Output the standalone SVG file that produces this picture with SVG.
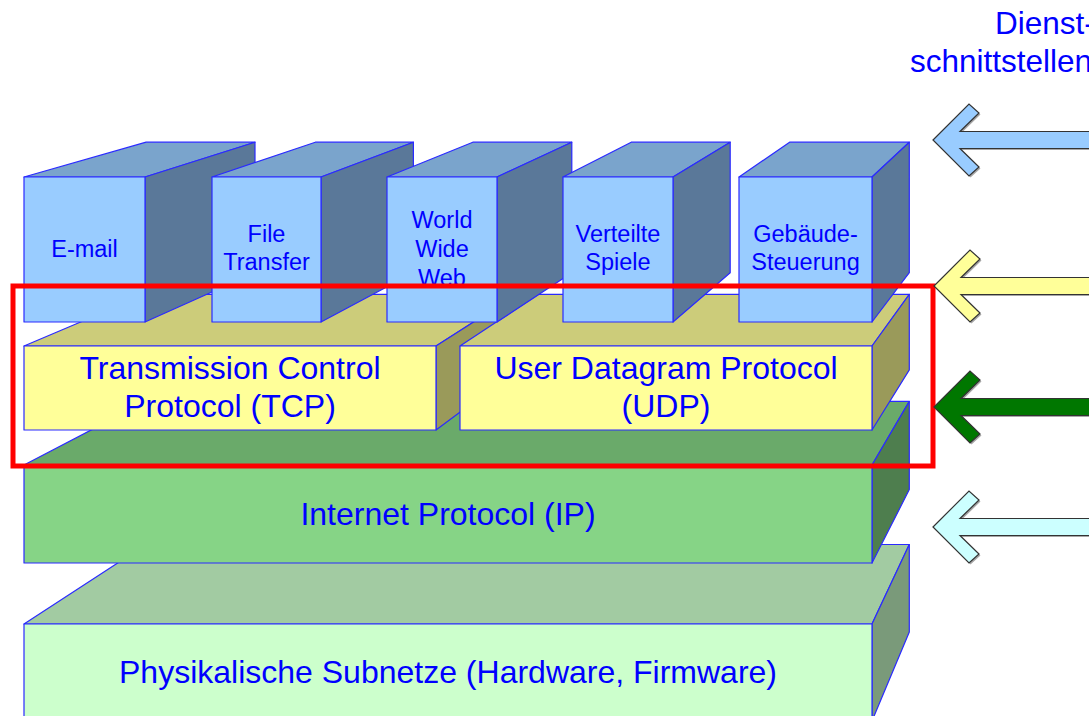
<svg xmlns="http://www.w3.org/2000/svg" width="1089" height="716" viewBox="0 0 1089 716">
<style>
.e{stroke:#2A2AFF;stroke-width:1.2;stroke-linejoin:round}
.af{fill:#99CCFF}.at{fill:#7AA4CC}.as{fill:#5A7899}
.yf{fill:#FFFF99}.yt{fill:#CCCC7A}.ys{fill:#9A9A5A}
.gf{fill:#86D486}.gt{fill:#6AAA6A}.gs{fill:#4E7E4E}
.pf{fill:#CCFFCC}.pt{fill:#A2CBA2}.ps{fill:#7A9A7A}
text{font-family:"Liberation Sans",Arial,sans-serif;fill:#0000FF;text-anchor:middle}
.s{font-size:23.5px}.l{font-size:32px}
.d{font-size:31.5px;text-anchor:start}
.arr{stroke:#333333;stroke-width:1.2;stroke-linejoin:miter}
.sh{fill:#000000;opacity:0.35}
</style>
<defs>
<clipPath id="clipweb"><rect x="387" y="177" width="110" height="107"/></clipPath>
<polygon id="arrow" points="0,0 36,-36 46,-27 27,-8.5 170,-8.5 170,8.5 27,8.5 46,27 36,36"/>
</defs>
<rect width="1089" height="716" fill="#FFFFFF"/>

<g id="physical">
<polygon class="e pt" points="24,624 146.1,544.5 909.3,544.5 872,624"/>
<polygon class="e ps" points="872,624 909.3,544.5 909.3,632 872,721"/>
<rect class="e pf" x="24" y="624" width="848" height="97"/>
<text class="l" x="448" y="683">Physikalische Subnetze (Hardware, Firmware)</text>
</g>

<g id="ip">
<polygon class="e gt" points="24,465 146.1,401.4 909.3,401.4 872,465"/>
<polygon class="e gs" points="872,465 909.3,401.4 909.3,489.6 872,563"/>
<rect class="e gf" x="24" y="465" width="848" height="98"/>
<text class="l" x="448" y="525">Internet Protocol (IP)</text>
</g>

<g id="tcp">
<polygon class="e yt" points="24,346 146.1,294.3 516.9,294.3 436,346"/>
<polygon class="e ys" points="436,346 516.9,294.3 516.9,369.9 436,430"/>
<rect class="e yf" x="24" y="346" width="412" height="84"/>
<text class="l" x="230" y="379">Transmission Control</text>
<text class="l" x="230" y="417">Protocol (TCP)</text>
</g>

<g id="udp">
<polygon class="e yt" points="460,346 538.5,294.3 909.3,294.3 872,346"/>
<polygon class="e ys" points="872,346 909.3,294.3 909.3,369.9 872,430"/>
<rect class="e yf" x="460" y="346" width="412" height="84"/>
<text class="l" x="666" y="379">User Datagram Protocol</text>
<text class="l" x="666" y="417">(UDP)</text>
</g>

<g id="email">
<polygon class="e at" points="24,177 146.1,142.2 255,142.2 145,177"/>
<polygon class="e as" points="145,177 255,142.2 255,272.7 145,322"/>
<rect class="e af" x="24" y="177" width="121" height="145"/>
<text class="s" x="84.5" y="257">E-mail</text>
</g>

<g id="filetransfer">
<polygon class="e at" points="212,177 315.3,142.2 413.4,142.2 321,177"/>
<polygon class="e as" points="321,177 413.4,142.2 413.4,272.7 321,322"/>
<rect class="e af" x="212" y="177" width="109" height="145"/>
<text class="s" x="266.5" y="242">File</text>
<text class="s" x="266.5" y="270">Transfer</text>
</g>

<g id="www">
<polygon class="e at" points="387,177 472.8,142.2 571.8,142.2 497,177"/>
<polygon class="e as" points="497,177 571.8,142.2 571.8,272.7 497,322"/>
<rect class="e af" x="387" y="177" width="110" height="145"/>
<g clip-path="url(#clipweb)">
<text class="s" x="442" y="228">World</text>
<text class="s" x="442" y="257">Wide</text>
<text class="s" x="442" y="286">Web</text>
</g>
</g>

<g id="spiele">
<polygon class="e at" points="563,177 631.2,142.2 730.2,142.2 673,177"/>
<polygon class="e as" points="673,177 730.2,142.2 730.2,272.7 673,322"/>
<rect class="e af" x="563" y="177" width="110" height="145"/>
<text class="s" x="618" y="242">Verteilte</text>
<text class="s" x="618" y="270">Spiele</text>
</g>

<g id="gebaeude">
<polygon class="e at" points="739,177 789.6,142.2 909.3,142.2 872,177"/>
<polygon class="e as" points="872,177 909.3,142.2 909.3,272.7 872,322"/>
<rect class="e af" x="739" y="177" width="133" height="145"/>
<text class="s" x="805.5" y="242">Gebäude-</text>
<text class="s" x="805.5" y="270">Steuerung</text>
</g>

<g id="highlight">
<rect x="13" y="286" width="920" height="180" fill="none" stroke="#FF0000" stroke-width="5"/>
</g>

<g id="label-dienst">
<text class="d" x="995" y="34">Dienst-</text>
<text class="d" x="910" y="72">schnittstellen</text>
</g>

<g id="connectors">
<use href="#arrow" class="sh" transform="translate(934.5,141.5)"/>
<use href="#arrow" class="arr" fill="#99CCFF" transform="translate(933,140)"/>
<use href="#arrow" class="sh" transform="translate(935.5,287.5)"/>
<use href="#arrow" class="arr" fill="#FFFF99" transform="translate(934,286)"/>
<use href="#arrow" class="sh" transform="translate(935.5,408.5)"/>
<use href="#arrow" class="arr" fill="#007700" transform="translate(934,407)"/>
<use href="#arrow" class="sh" transform="translate(934.5,528.5)"/>
<use href="#arrow" class="arr" fill="#CCFFFF" transform="translate(933,527)"/>
</g>
</svg>
